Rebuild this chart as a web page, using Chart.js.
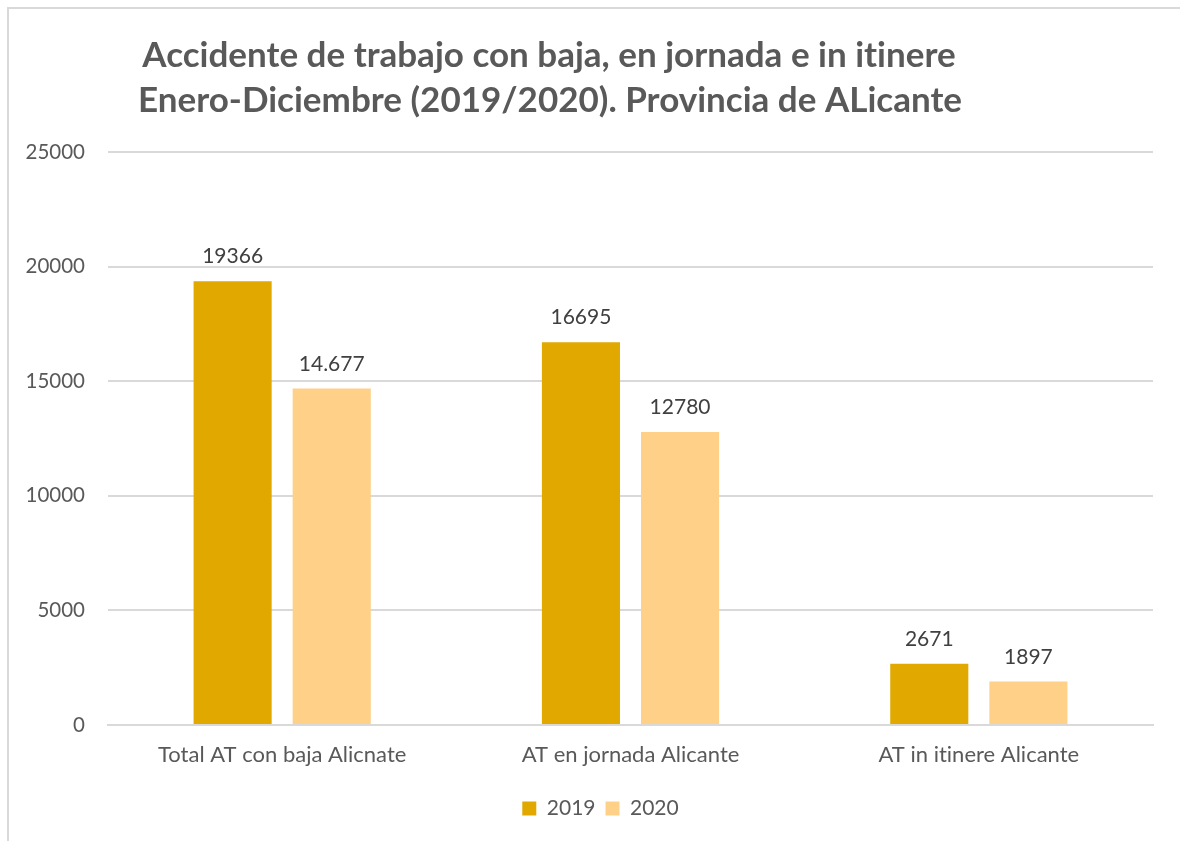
<!DOCTYPE html>
<html lang="es">
<head>
<meta charset="utf-8">
<title>Accidente de trabajo con baja - Alicante</title>
<script src="https://cdn.jsdelivr.net/npm/chart.js@4.4.1/dist/chart.umd.min.js"></script>
<style>
  html, body { margin: 0; padding: 0; background: #fff; }
  #marco {
    position: absolute; left: 7px; top: 7px; width: 1200px; height: 860px;
    border-left: 2px solid #d9d9d9; border-top: 2px solid #d9d9d9;
  }
  #lienzo { position: absolute; left: 0; top: 0; width: 1180px; height: 841px; }
</style>
</head>
<body>
<div id="marco"></div>
<div id="lienzo"><canvas id="grafico" width="1180" height="841"></canvas></div>
<script>
// Datos del gráfico
const categorias = ['Total AT con baja Alicnate', 'AT en jornada Alicante', 'AT in itinere Alicante'];
const anios = ['2019', '2020'];
const valores2019 = [19366, 16695, 2671];
const valores2020 = [14677, 12780, 1897];
// etiquetas tal como aparecen sobre las barras
const etiquetas2019 = ['19366', '16695', '2671'];
const etiquetas2020 = ['14.677', '12780', '1897'];
const ticksY = [0, 5000, 10000, 15000, 20000, 25000];
const titulo = [
    'Accidente de trabajo con baja, en jornada e in itinere',
    'Enero-Diciembre (2019/2020). Provincia de ALicante'
];

const colorOro = '#e1a900';
const colorCrema = '#ffd088';
const colorTexto = '#595959';
const fuente = 'Lato, "Open Sans", sans-serif';

// Sin ligaduras (la "ti" de Lato no se parece al original)
const pluginSinLigaduras = {
    id: 'sinLigaduras',
    beforeDraw(chart) {
        chart.ctx.textRendering = 'optimizeSpeed';
    }
};

// La leyenda del original queda un poco a la derecha del centro
const pluginLeyenda = {
    id: 'moverLeyenda',
    afterLayout(chart) {
        if (chart.legend) {
            chart.legend.left += 24;
            chart.legend.right += 24;
        }
    }
};

// Título dibujado a mano (va algo desplazado a la izquierda, como en el original)
const pluginTitulo = {
    id: 'tituloDesplazado',
    afterDraw(chart) {
        const ctx = chart.ctx;
        ctx.save();
        ctx.textRendering = 'optimizeSpeed';
        ctx.fillStyle = colorTexto;
        ctx.font = 'bold 35px ' + fuente;
        ctx.textAlign = 'center';
        ctx.textBaseline = 'alphabetic';
        ctx.fillText(titulo[0], 549, 67);
        ctx.fillText(titulo[1], 550, 112);
        ctx.restore();
    }
};

// Etiquetas de valor encima de cada barra
const pluginEtiquetas = {
    id: 'etiquetasValor',
    afterDatasetsDraw(chart) {
        const ctx = chart.ctx;
        const textos = [etiquetas2019, etiquetas2020];
        ctx.save();
        ctx.fillStyle = '#404040';
        ctx.font = '21px ' + fuente;
        ctx.textAlign = 'center';
        ctx.textBaseline = 'alphabetic';
        chart.data.datasets.forEach((ds, i) => {
            const meta = chart.getDatasetMeta(i);
            meta.data.forEach((barra, j) => {
                ctx.fillText(textos[i][j], barra.x, barra.y - 18);
            });
        });
        ctx.restore();
    }
};

const ctx = document.getElementById('grafico');

new Chart(ctx, {
    type: 'bar',
    data: {
        labels: categorias,
        datasets: [
            { label: anios[0], data: valores2019, backgroundColor: colorOro },
            { label: anios[1], data: valores2020, backgroundColor: colorCrema }
        ]
    },
    options: {
        responsive: false,
        animation: false,
        categoryPercentage: 0.569,
        barPercentage: 0.788,
        layout: { padding: { top: 152, right: 27, bottom: 12, left: 0 } },
        scales: {
            x: {
                grid: { display: false, drawTicks: false },
                border: { color: '#d9d9d9', width: 2 },
                ticks: { color: colorTexto, font: { family: fuente, size: 22 }, padding: 17 },
                afterFit(scale) { scale.height = 63; }
            },
            y: {
                min: 0,
                max: 25000,
                afterBuildTicks(scale) { scale.ticks = ticksY.map(v => ({ value: v })); },
                grid: { color: '#d9d9d9', lineWidth: 2, drawTicks: false },
                border: { display: false },
                ticks: {
                    color: colorTexto,
                    font: { family: fuente, size: 20.5 },
                    padding: 23,
                    callback: v => String(v)
                },
                afterFit(scale) { scale.width = 108; }
            }
        },
        plugins: {
            title: { display: false },
            tooltip: { enabled: false },
            legend: {
                position: 'bottom',
                labels: {
                    color: colorTexto,
                    font: { family: fuente, size: 21 },
                    boxWidth: 14,
                    boxHeight: 14,
                    padding: 10
                }
            }
        }
    },
    plugins: [pluginSinLigaduras, pluginLeyenda, pluginTitulo, pluginEtiquetas]
});
</script>
</body>
</html>
